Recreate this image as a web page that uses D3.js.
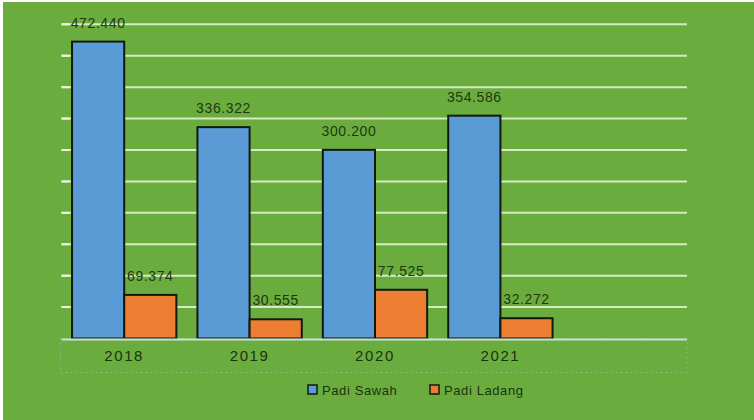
<!DOCTYPE html>
<html>
<head>
<meta charset="utf-8">
<script src="https://cdn.jsdelivr.net/npm/d3@7"></script>
<style>
  html, body { margin: 0; padding: 0; background: #ffffff; }
  svg { display: block; }
  text { font-family: "Liberation Sans", Arial, sans-serif; }
</style>
</head>
<body>
<svg id="chart" width="754" height="420"></svg>
<script>
const categories = ["2018", "2019", "2020", "2021"];
const seriesNames = ["Padi Sawah", "Padi Ladang"];
const padiSawah = [472.440, 336.322, 300.200, 354.586];
const padiLadang = [69.374, 30.555, 77.525, 32.272];
const yTicks = [50, 100, 150, 200, 250, 300, 350, 400, 450, 500];
const seriesColors = ["#5b9bd5", "#ed7d31"];

const svg = d3.select("#chart");
const W = 754, H = 420;

// background
svg.append("rect").attr("x", 0).attr("y", 0).attr("width", W).attr("height", H).attr("fill", "#ffffff");
svg.append("rect").attr("x", 3).attr("y", 2).attr("width", W - 3).attr("height", H - 2).attr("fill", "#6aad3e");

const plotLeft = 61.5, plotRight = 687, yBase = 338.5, yTop = 24.3;
const y = d3.scaleLinear().domain([0, 500]).range([yBase, yTop]);
const x = d3.scaleBand().domain(categories).range([plotLeft, plotLeft + 125.4 * 4])
  .paddingInner(0.168).paddingOuter(0.084);
const x1 = d3.scaleBand().domain(seriesNames).range([0, x.bandwidth()]);

// gridlines
svg.append("g").selectAll("line").data(yTicks).join("line")
  .attr("x1", plotLeft).attr("x2", plotRight)
  .attr("y1", d => y(d)).attr("y2", d => y(d))
  .attr("stroke", "#d6ebc2").attr("stroke-width", 2);
// brighter left tick stubs
svg.append("g").selectAll("line").data(yTicks).join("line")
  .attr("x1", plotLeft).attr("x2", plotLeft + 8)
  .attr("y1", d => y(d)).attr("y2", d => y(d))
  .attr("stroke", "#eef7e4").attr("stroke-width", 2);

// axis selection box
svg.append("rect").attr("x", plotLeft - 1).attr("y", yBase).attr("width", plotRight - plotLeft + 1).attr("height", 34)
  .attr("fill", "none").attr("stroke", "#8fcfc0").attr("stroke-opacity", 0.5)
  .attr("stroke-dasharray", "2,3").attr("stroke-width", 1);

const data = categories.map((c, i) => ({ cat: c, vals: [padiSawah[i], padiLadang[i]] }));

const groups = svg.append("g").selectAll("g").data(data).join("g")
  .attr("transform", d => `translate(${x(d.cat)},0)`);

groups.selectAll("rect").data(d => d.vals.map((v, j) => ({ v, s: seriesNames[j], j }))).join("rect")
  .attr("x", d => x1(d.s))
  .attr("y", d => y(d.v))
  .attr("width", x1.bandwidth())
  .attr("height", d => yBase - y(d.v))
  .attr("fill", d => seriesColors[d.j])
  .attr("stroke", "#111a10").attr("stroke-width", 2);

groups.selectAll("text").data(d => d.vals.map((v, j) => ({ v, s: seriesNames[j], j }))).join("text")
  .attr("x", d => x1(d.s) + x1.bandwidth() / 2)
  .attr("y", d => y(d.v) - 14)
  .attr("text-anchor", "middle")
  .attr("font-size", 14).attr("letter-spacing", 0.6)
  .attr("fill", "#1f3812")
  .text(d => d.v.toFixed(3));

// baseline axis line
svg.append("line").attr("x1", plotLeft).attr("x2", plotRight).attr("y1", yBase + 1).attr("y2", yBase + 1)
  .attr("stroke", "#c6e4d6").attr("stroke-width", 2);

// category labels
svg.append("g").selectAll("text").data(categories).join("text")
  .attr("x", d => x(d) + x.bandwidth() / 2)
  .attr("y", 361)
  .attr("text-anchor", "middle")
  .attr("font-size", 15).attr("letter-spacing", 1.6)
  .attr("fill", "#1a3310")
  .text(d => d);

// legend
const legendX = [308, 430];
const leg = svg.append("g").selectAll("g").data(seriesNames).join("g")
  .attr("transform", (d, i) => `translate(${legendX[i]},385)`);
leg.append("rect").attr("x", 0).attr("y", 0).attr("width", 9).attr("height", 9)
  .attr("fill", (d, i) => seriesColors[i]).attr("stroke", "#111a10").attr("stroke-width", 1.5);
leg.append("text").attr("x", 14).attr("y", 9.5)
  .attr("font-size", 13).attr("letter-spacing", 0.6)
  .attr("fill", "#1a3310")
  .text(d => d);
</script>
</body>
</html>
